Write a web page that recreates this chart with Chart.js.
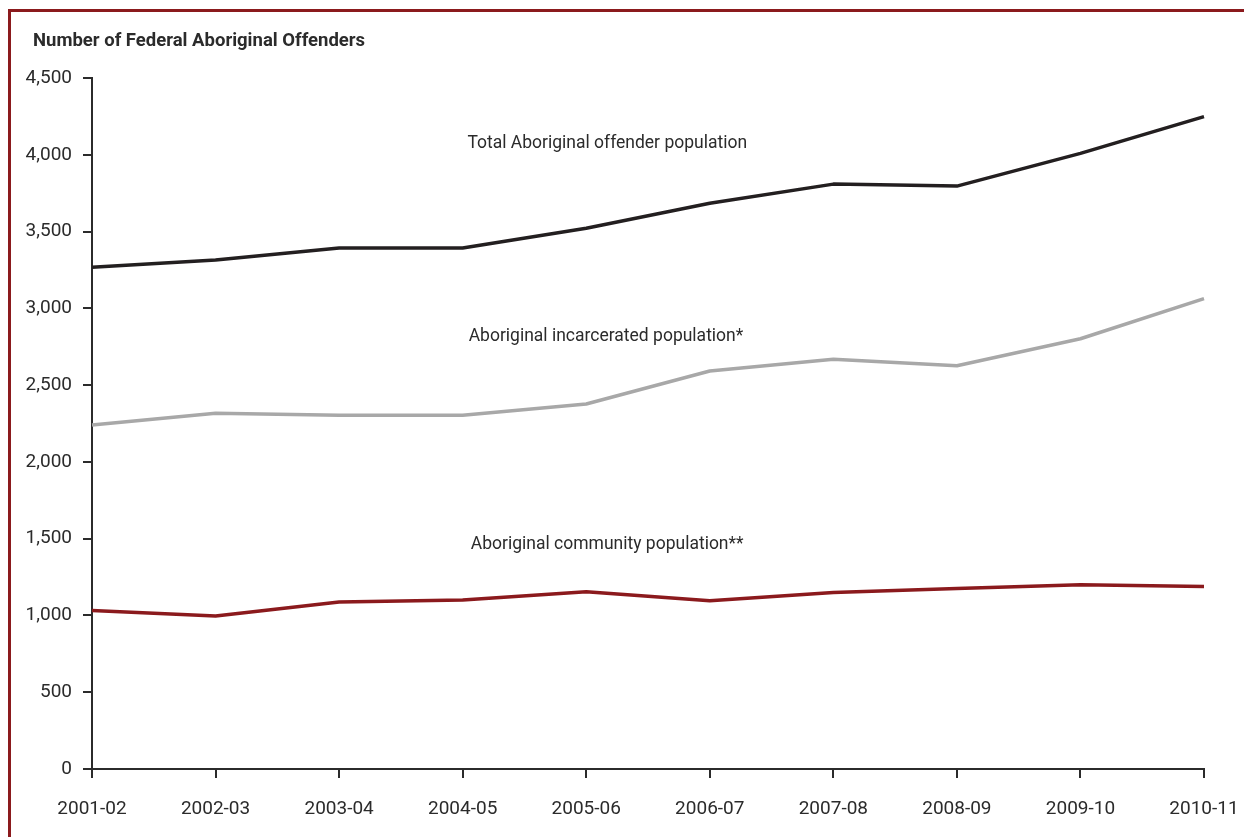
<!DOCTYPE html>
<html>
<head>
<meta charset="utf-8">
<title>Number of Federal Aboriginal Offenders</title>
<script src="https://cdn.jsdelivr.net/npm/chart.js@4.4.1/dist/chart.umd.min.js"></script>
<style>
  html, body { margin: 0; padding: 0; background: #ffffff; }
  #wrap { position: relative; width: 1244px; height: 837px; }
  canvas { display: block; }
</style>
</head>
<body>
<div id="wrap"><canvas id="chart" width="1244" height="837"></canvas></div>
<script>
// Fiscal years on the horizontal axis
const years = ['2001-02', '2002-03', '2003-04', '2004-05', '2005-06',
               '2006-07', '2007-08', '2008-09', '2009-10', '2010-11'];

// Federal Aboriginal offender counts
const totalPopulation        = [3267, 3315, 3393, 3393, 3521, 3684, 3809, 3796, 4009, 4248];
const incarceratedPopulation = [2240, 2316, 2303, 2303, 2377, 2592, 2668, 2626, 2802, 3063];
const communityPopulation    = [1033,  997, 1088, 1100, 1155, 1095, 1150, 1175, 1200, 1188];

// Y axis tick values
const yTicks = [0, 500, 1000, 1500, 2000, 2500, 3000, 3500, 4000, 4500];

// Series names, written on the plot next to each line
const seriesNames = ['Total Aboriginal offender population',
                     'Aboriginal incarcerated population*',
                     'Aboriginal community population**'];
const chartTitle = 'Number of Federal Aboriginal Offenders';

const FONT = "Roboto, 'DejaVu Sans Condensed', sans-serif";
const TEXT = '#2b2b2b';
const AXIS = '#2b2b2b';
const FRAME = '#8b1a1d';

// Where each series name sits: category position and value
const labelSpots = [
  { x: 4.17, y: 4070 },
  { x: 4.16, y: 2819 },
  { x: 4.17, y: 1458 }
];

const decorations = {
  id: 'decorations',
  beforeDraw(chart) {
    const ctx = chart.ctx;
    ctx.save();
    ctx.fillStyle = '#ffffff';
    ctx.fillRect(0, 0, chart.width, chart.height);
    // frame on the top and left edges
    ctx.fillStyle = FRAME;
    ctx.fillRect(8, 9, chart.width - 8, 3);
    ctx.fillRect(8, 9, 3, chart.height - 9);
    ctx.restore();
  },
  afterDatasetsDraw(chart) {
    const ctx = chart.ctx;
    const xs = chart.scales.x, ys = chart.scales.y;
    ctx.save();
    ctx.fillStyle = TEXT;
    ctx.textBaseline = 'middle';
    ctx.textAlign = 'left';
    ctx.font = 'bold 18.5px ' + FONT;
    ctx.fillText(chartTitle, 33, 41);
    ctx.font = '17.5px ' + FONT;
    ctx.textAlign = 'center';
    seriesNames.forEach((name, i) => {
      const s = labelSpots[i];
      ctx.fillText(name, xs.getPixelForValue(s.x), ys.getPixelForValue(s.y));
    });
    ctx.restore();
  }
};

new Chart(document.getElementById('chart'), {
  type: 'line',
  data: {
    labels: years,
    datasets: [
      { label: seriesNames[0], data: totalPopulation,        borderColor: '#231f20', borderWidth: 3.5 },
      { label: seriesNames[1], data: incarceratedPopulation, borderColor: '#a8a8a8', borderWidth: 3.5 },
      { label: seriesNames[2], data: communityPopulation,    borderColor: '#8b1a1d', borderWidth: 3.5 }
    ]
  },
  options: {
    responsive: false,
    animation: false,
    devicePixelRatio: 1,
    layout: { padding: { left: 0, top: 78, right: 40, bottom: 0 } },
    elements: {
      point: { radius: 0, hoverRadius: 0 },
      line: { tension: 0, fill: false, borderCapStyle: 'butt', borderJoinStyle: 'round' }
    },
    plugins: {
      legend: { display: false },
      title: { display: false },
      tooltip: { enabled: false }
    },
    scales: {
      x: {
        offset: false,
        grid: { display: true, drawOnChartArea: false, drawTicks: true, tickLength: 9, color: AXIS, lineWidth: 2 },
        border: { display: true, color: AXIS, width: 2 },
        ticks: { color: TEXT, font: { family: FONT, size: 19 }, padding: 20, maxRotation: 0, autoSkip: false },
        afterFit(scale) {
          scale.height = 68;
          scale.paddingLeft = 0;
          scale.paddingRight = 0;
        }
      },
      y: {
        min: 0,
        max: 4500,
        afterBuildTicks(scale) { scale.ticks = yTicks.map(v => ({ value: v })); },
        grid: { display: true, drawOnChartArea: false, drawTicks: true, tickLength: 9, color: AXIS, lineWidth: 2 },
        border: { display: true, color: AXIS, width: 2 },
        ticks: {
          color: TEXT,
          font: { family: FONT, size: 19 },
          padding: 11,
          callback: v => Number(v).toLocaleString('en-US')
        },
        afterFit(scale) {
          scale.width = 92;
          scale.paddingTop = 0;
          scale.paddingBottom = 0;
        }
      }
    }
  },
  plugins: [decorations]
});
</script>
</body>
</html>
